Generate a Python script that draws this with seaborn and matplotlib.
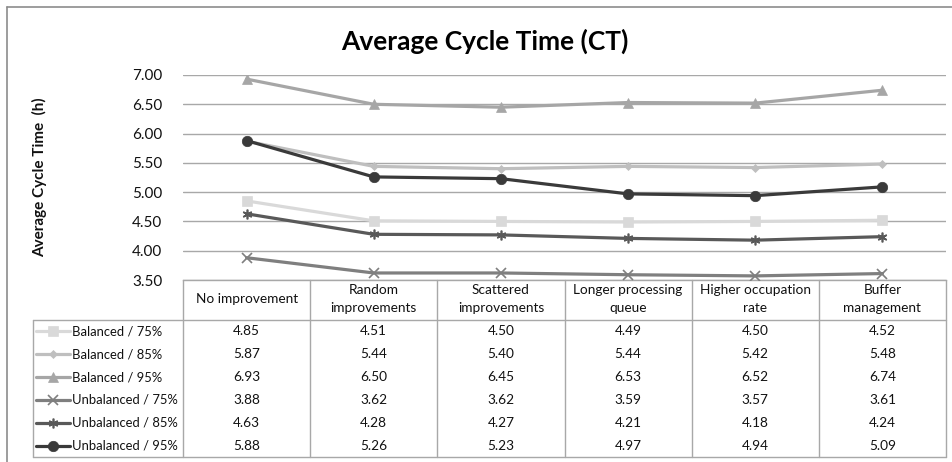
import matplotlib
matplotlib.use("Agg")
import matplotlib.pyplot as plt
from matplotlib.lines import Line2D
import seaborn as sns
import pandas as pd

categories = ["No improvement", "Random\nimprovements", "Scattered\nimprovements",
              "Longer processing\nqueue", "Higher occupation\nrate", "Buffer\nmanagement"]
series_names = ["Balanced / 75%", "Balanced / 85%", "Balanced / 95%",
                "Unbalanced / 75%", "Unbalanced / 85%", "Unbalanced / 95%"]
balanced_75 = [4.85, 4.51, 4.50, 4.49, 4.50, 4.52]
balanced_85 = [5.87, 5.44, 5.40, 5.44, 5.42, 5.48]
balanced_95 = [6.93, 6.50, 6.45, 6.53, 6.52, 6.74]
unbalanced_75 = [3.88, 3.62, 3.62, 3.59, 3.57, 3.61]
unbalanced_85 = [4.63, 4.28, 4.27, 4.21, 4.18, 4.24]
unbalanced_95 = [5.88, 5.26, 5.23, 4.97, 4.94, 5.09]
y_ticks = [3.50, 4.00, 4.50, 5.00, 5.50, 6.00, 6.50, 7.00]

all_values = [balanced_75, balanced_85, balanced_95, unbalanced_75, unbalanced_85, unbalanced_95]

colors = ["#D9D9D9", "#BFBFBF", "#A6A6A6", "#7F7F7F", "#595959", "#3A3A3A"]
markers = ["s", "D", "^", "x", (6, 2, 0), "o"]
msizes = [7, 4.5, 7, 7, 7, 7.5]

sns.set_theme(style="white")
plt.rcParams['font.family'] = ['Lato', 'DejaVu Sans']

rows = []
for name, vals in zip(series_names, all_values):
    for i, v in enumerate(vals):
        rows.append({"category": i, "series": name, "value": v})
df = pd.DataFrame(rows)

W, H = 952, 462
fig = plt.figure(figsize=(W / 100, H / 100), dpi=100)

def fx(px):
    return px / W

def fy(py):
    return 1 - py / H

L, R, T, B = 183, 946, 75, 280
ax = fig.add_axes([fx(L), fy(B), fx(R) - fx(L), fy(T) - fy(B)])

def mew(mk):
    return 1.2 if mk in ("x", (6, 2, 0)) else 0.5

for name, vals, col, mk, ms in zip(series_names, all_values, colors, markers, msizes):
    sub = df[df["series"] == name]
    sns.lineplot(data=sub, x="category", y="value", ax=ax, color=col, linewidth=2.3,
                 marker=mk, markersize=ms, markeredgecolor=col, markerfacecolor=col,
                 markeredgewidth=mew(mk), legend=False, zorder=3)

ax.set_xlim(-0.5, len(categories) - 0.5)
ax.set_ylim(3.5, 7.0)
ax.set_yticks(y_ticks)
ax.set_yticklabels([f"{t:.2f}" for t in y_ticks], fontsize=11, color="#111111")
ax.set_xticks([])
ax.set_xlabel("")
ax.set_ylabel("")
ax.grid(axis="y", color="#A8A8A8", linewidth=1.0)
ax.set_axisbelow(True)
for s in ["top", "right", "left"]:
    ax.spines[s].set_visible(False)
ax.spines["bottom"].set_color("#A8A8A8")
ax.spines["bottom"].set_linewidth(1.0)
ax.tick_params(axis="y", length=0, pad=15)

# title and y label
fig.text(fx(485), fy(41), "Average Cycle Time (CT)", ha="center", va="center",
         fontsize=19, fontweight="bold", color="#000000")
fig.text(fx(40), fy(177), "Average Cycle Time  (h)", ha="center", va="center",
         rotation=90, fontsize=11, fontweight="bold", color="#111111")

# outer frame
lc = "#8C8C8C"
fig.add_artist(Line2D([fx(7), fx(7)], [fy(7), fy(462)], color=lc, lw=1.2))
fig.add_artist(Line2D([fx(7), fx(952)], [fy(7), fy(7)], color=lc, lw=1.2))

# data table
gc = "#A8A8A8"
col_w = (R - L) / len(categories)
hdr_bot = 320
tbl_bot = 457
row_h = (tbl_bot - hdr_bot) / len(series_names)
for k in range(len(categories) + 1):
    xk = L + k * col_w
    fig.add_artist(Line2D([fx(xk), fx(xk)], [fy(B), fy(tbl_bot)], color=gc, lw=1.0))
fig.add_artist(Line2D([fx(33), fx(R)], [fy(hdr_bot), fy(hdr_bot)], color=gc, lw=1.0))
fig.add_artist(Line2D([fx(33), fx(R)], [fy(tbl_bot), fy(tbl_bot)], color=gc, lw=1.0))
fig.add_artist(Line2D([fx(33), fx(33)], [fy(hdr_bot), fy(tbl_bot)], color=gc, lw=1.0))

for k, cat in enumerate(categories):
    xc = L + (k + 0.5) * col_w
    fig.text(fx(xc), fy((B + hdr_bot) / 2 - 1), cat, ha="center", va="center",
             fontsize=9.8, color="#111111", linespacing=1.5)

for r, (name, vals, col, mk, ms) in enumerate(zip(series_names, all_values, colors, markers, msizes)):
    yc = hdr_bot + (r + 0.5) * row_h
    fig.add_artist(Line2D([fx(36), fx(70)], [fy(yc), fy(yc)], color=col, lw=2.3))
    fig.add_artist(Line2D([fx(53)], [fy(yc)], color=col, marker=mk, markersize=ms,
                          markeredgecolor=col, markerfacecolor=col,
                          markeredgewidth=mew(mk)))
    fig.text(fx(72), fy(yc), name, ha="left", va="center", fontsize=9.4, color="#111111")
    for k, v in enumerate(vals):
        xc = L + (k + 0.5) * col_w
        fig.text(fx(xc), fy(yc), f"{v:.2f}", ha="center", va="center",
                 fontsize=9.8, color="#111111")

fig.savefig("out.png", dpi=100, facecolor="white")
